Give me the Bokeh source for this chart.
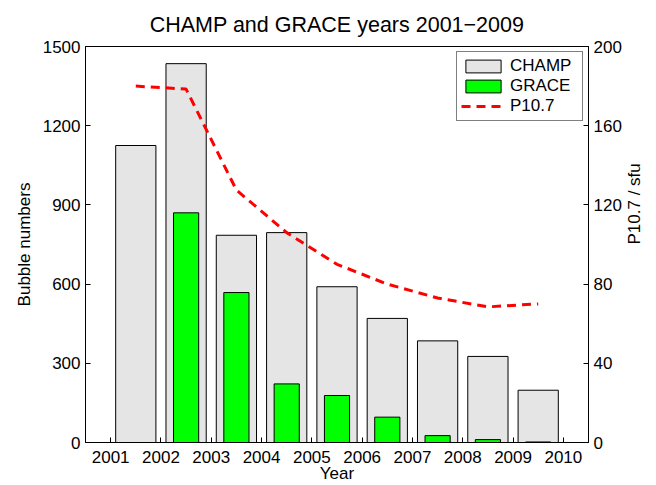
from bokeh.plotting import figure
from bokeh.models import Range1d, LinearAxis, FixedTicker, ColumnDataSource
from bokeh.embed import file_html
from bokeh.resources import INLINE

years = [2001, 2002, 2003, 2004, 2005, 2006, 2007, 2008, 2009]
champ = [1125, 1435, 785, 795, 590, 470, 385, 326, 198]
grace = [0, 870, 568, 222, 178, 96, 26, 11, 2]
p107 = [180, 178.5, 127.5, 106, 90, 80, 73, 68.5, 70]
x_ticks = [2001, 2002, 2003, 2004, 2005, 2006, 2007, 2008, 2009, 2010]
left_ticks = [0, 300, 600, 900, 1200, 1500]
right_ticks = [0, 40, 80, 120, 160, 200]

FONT = "Liberation Sans"

src = ColumnDataSource(dict(
    x=[y + 0.5 for y in years], champ=champ, grace=grace, p107=p107))

p = figure(width=656, height=485, x_range=Range1d(2000.5, 2010.5),
           y_range=Range1d(0, 1500), output_backend="svg",
           toolbar_location=None, min_border_left=85, min_border_right=67,
           min_border_top=46, min_border_bottom=43)
p.extra_y_ranges = {"p107": Range1d(0, 200)}

p.title.text = "CHAMP and GRACE years 2001\u22122009"
p.title.align = "center"
p.title.text_font = FONT
p.title.text_font_size = "21.5px"
p.title.text_font_style = "normal"
p.title.text_color = "black"
p.title.standoff = 20

p.xgrid.visible = False
p.ygrid.visible = False
p.outline_line_color = "black"
p.outline_line_width = 1
p.background_fill_color = "white"
p.border_fill_color = "white"

p.vbar(x="x", top="champ", width=0.8, source=src, fill_color="#e5e5e5",
       line_color="black", line_width=1, legend_label="CHAMP")
p.vbar(x="x", top="grace", width=0.5, source=src, fill_color="#00ff00",
       line_color="black", line_width=1, legend_label="GRACE")
p.line(x="x", y="p107", source=src, y_range_name="p107", line_color="red",
       line_width=3, line_dash="9 6", legend_label="P10.7")

right = LinearAxis(y_range_name="p107", axis_label="P10.7 / sfu")
p.add_layout(right, "right")

p.xaxis.ticker = FixedTicker(ticks=x_ticks)
p.xaxis.axis_label = "Year"
p.yaxis[0].ticker = FixedTicker(ticks=left_ticks)
p.yaxis[0].axis_label = "Bubble numbers"
right.ticker = FixedTicker(ticks=right_ticks)

for ax in [p.xaxis[0], p.yaxis[0], right]:
    ax.major_tick_in = 5
    ax.major_tick_out = 0
    ax.minor_tick_line_color = None
    ax.axis_line_color = "black"
    ax.major_tick_line_color = "black"
    ax.major_label_text_font = FONT
    ax.major_label_text_font_size = "17px"
    ax.major_label_text_color = "black"
    ax.axis_label_text_font = FONT
    ax.axis_label_text_font_size = "17px"
    ax.axis_label_text_font_style = "normal"
    ax.axis_label_text_color = "black"
    ax.major_label_standoff = 5
    ax.axis_label_standoff = 6

right.axis_label_orientation = 1.5708
right.axis_label_standoff = 10
p.xaxis[0].major_label_standoff = 8
p.xaxis[0].axis_label_standoff = -2

lg = p.legend[0]
lg.location = "top_right"
lg.margin = 5
lg.padding = 4
lg.spacing = 0
lg.glyph_width = 44
lg.glyph_height = 16
lg.label_standoff = 5
lg.label_width = 68
lg.label_text_font = FONT
lg.label_text_font_size = "17px"
lg.label_text_color = "black"
lg.label_height = 16
lg.border_line_color = "black"
lg.border_line_width = 1
lg.background_fill_color = "white"
lg.background_fill_alpha = 1.0

open("out.html", "w").write(file_html(p, INLINE))
